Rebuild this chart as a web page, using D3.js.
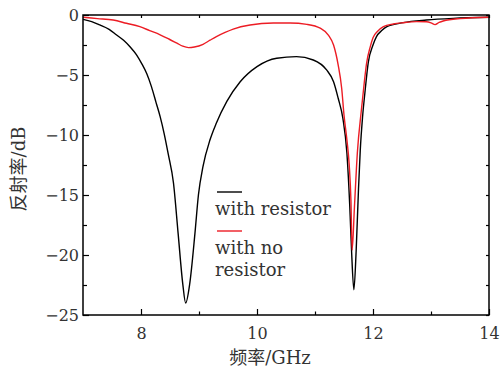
<!DOCTYPE html>
<html>
<head>
<meta charset="utf-8">
<script src="https://cdn.jsdelivr.net/npm/d3@7"></script>
<style>
  body { margin: 0; background: #fff; }
  text { font-family: "DejaVu Serif", "Noto Sans CJK SC", serif; fill: #333; }
</style>
</head>
<body>
<div id="chart"></div>
<script>
// frequency (GHz) / reflectivity (dB)
var freqWith = [7.00, 7.15, 7.29, 7.45, 7.58, 7.70, 7.81, 7.92, 8.01, 8.10, 8.18, 8.26, 8.33, 8.40, 8.47, 8.56, 8.64, 8.72, 8.77,
  8.84, 8.93, 8.99, 9.07, 9.19, 9.30, 9.48, 9.71, 10.00, 10.34, 10.68, 10.97, 11.20, 11.32, 11.40, 11.48, 11.55,
  11.60, 11.63, 11.67, 11.71, 11.75, 11.78, 11.82, 11.86, 11.92, 12.00, 12.06, 12.15, 12.24, 12.52, 12.92, 13.38, 14.00];
var dbWith = [-0.36, -0.55, -0.83, -1.2, -1.67, -2.1, -2.64, -3.3, -4.03, -4.9, -5.97, -7.3, -8.47, -9.9, -11.6, -14.0, -18.2, -22.4, -24.0,
  -22.4, -18.2, -15.0, -12.6, -10.4, -9.0, -7.2, -5.56, -4.3, -3.6, -3.47, -3.75, -4.58, -5.56, -6.94, -8.6, -11.5,
  -16.0, -19.6, -22.9, -19.6, -14.5, -11.3, -8.5, -6.5, -3.9, -2.5, -1.8, -1.3, -0.97, -0.64, -0.42, -0.28, -0.19];

var freqWithout = [7.00, 7.25, 7.52, 7.75, 7.98, 8.15, 8.33, 8.48, 8.62, 8.72, 8.82, 8.92, 9.07, 9.19, 9.30, 9.45, 9.59, 9.88, 10.28,
  10.57, 10.86, 11.09, 11.23, 11.32, 11.40, 11.46, 11.50, 11.55, 11.59, 11.62, 11.64, 11.68, 11.73, 11.80, 11.85, 11.89, 11.95,
  12.00, 12.08, 12.18, 12.35, 12.52, 12.75, 12.92, 13.00, 13.07, 13.14, 13.21, 13.50, 14.00];
var dbWithout = [-0.19, -0.3, -0.42, -0.69, -0.97, -1.3, -1.65, -2.0, -2.35, -2.6, -2.72, -2.67, -2.44, -2.1, -1.8, -1.45, -1.17, -0.83, -0.67,
  -0.67, -0.78, -1.1, -1.67, -2.5, -4.17, -6.1, -8.33, -10.4, -12.5, -15.5, -19.6, -16.0, -11.5, -7.9, -5.6, -4.0, -2.7,
  -1.9, -1.35, -0.97, -0.75, -0.64, -0.55, -0.56, -0.65, -0.8, -0.62, -0.5, -0.3, -0.19];

var xTicks = [8, 10, 12, 14];
var xMinor = [9, 11, 13];
var yTicks = [0, -5, -10, -15, -20, -25];
var yMinor = [-2.5, -7.5, -12.5, -17.5, -22.5];
var legendLabels = [['with resistor'], ['with no', 'resistor']];
var seriesColors = ['#000000', '#ec1c24'];

(function() {
  'use strict';

  var width = 502, height = 371;
  var m = { left: 83, right: 489, top: 15, bottom: 315 };

  var svg = d3.select('#chart').append('svg').attr('width', width).attr('height', height);

  var x = d3.scaleLinear().domain([7, 14]).range([m.left, m.right]);
  var y = d3.scaleLinear().domain([-25, 0]).range([m.bottom, m.top]);

  svg.append('clipPath').attr('id', 'plot').append('rect')
    .attr('x', m.left).attr('y', m.top).attr('width', m.right - m.left).attr('height', m.bottom - m.top);

  var series = [
    d3.zip(freqWith, dbWith),
    d3.zip(freqWithout, dbWithout)
  ];

  var line = d3.line()
    .x(function(d) { return x(d[0]); })
    .y(function(d) { return y(d[1]); })
    .curve(d3.curveMonotoneX);

  svg.append('g').attr('clip-path', 'url(#plot)').selectAll('path')
    .data(series)
    .enter()
    .append('path')
    .attr('d', line)
    .attr('fill', 'none')
    .attr('stroke', function(d, i) { return seriesColors[i]; })
    .attr('stroke-width', 1.4);

  // axes: ticks point inward, mirrored on top and right
  var fmt = function(d) { return d < 0 ? '\u2212' + Math.abs(d) : d; };

  var bottomAxis = svg.append('g').attr('transform', 'translate(0,' + m.bottom + ')')
    .call(d3.axisBottom(x).tickValues(xTicks).tickSizeInner(-6).tickSizeOuter(0).tickPadding(13).tickFormat(fmt));
  svg.append('g').attr('transform', 'translate(0,' + m.bottom + ')')
    .call(d3.axisBottom(x).tickValues(xMinor).tickSize(-3.5).tickFormat(''));
  svg.append('g').attr('transform', 'translate(0,' + m.top + ')')
    .call(d3.axisTop(x).tickValues(xTicks.concat(xMinor)).tickSize(-3).tickFormat(''));

  var leftAxis = svg.append('g').attr('transform', 'translate(' + m.left + ',0)')
    .call(d3.axisLeft(y).tickValues(yTicks).tickSizeInner(-6).tickSizeOuter(0).tickPadding(10).tickFormat(fmt));
  svg.append('g').attr('transform', 'translate(' + m.left + ',0)')
    .call(d3.axisLeft(y).tickValues(yMinor).tickSize(-4).tickFormat(''));
  svg.append('g').attr('transform', 'translate(' + m.right + ',0)')
    .call(d3.axisRight(y).tickValues(yTicks.concat(yMinor)).tickSize(-3).tickFormat(''));

  svg.selectAll('.domain').remove();
  svg.selectAll('.tick line').attr('stroke', '#000').attr('stroke-width', 1.2);
  bottomAxis.selectAll('text').attr('font-size', 16).attr('fill', '#333').style('font-family', '"DejaVu Serif", serif');
  leftAxis.selectAll('text').attr('font-size', 16).attr('fill', '#333').style('font-family', '"DejaVu Serif", serif').attr('x', -4);

  svg.append('rect')
    .attr('x', m.left).attr('y', m.top).attr('width', m.right - m.left).attr('height', m.bottom - m.top)
    .attr('fill', 'none').attr('stroke', '#000').attr('stroke-width', 1.5);

  // axis titles
  svg.append('text')
    .attr('x', (m.left + m.right) / 2 - 16).attr('y', 364)
    .attr('text-anchor', 'middle').attr('font-size', 18)
    .text('频率/GHz');

  svg.append('text')
    .attr('transform', 'translate(25,' + ((m.top + m.bottom) / 2 + 4) + ') rotate(-90)')
    .attr('text-anchor', 'middle').attr('font-size', 18)
    .text('反射率/dB');

  // legend
  var legend = svg.append('g');
  var legendY = [192, 231];
  legend.selectAll('line')
    .data(seriesColors)
    .enter()
    .append('line')
    .attr('x1', 217).attr('x2', 242)
    .attr('y1', function(d, i) { return legendY[i]; })
    .attr('y2', function(d, i) { return legendY[i]; })
    .attr('stroke', function(d) { return d; })
    .attr('stroke-width', 1.4);

  legend.selectAll('text')
    .data(legendLabels)
    .enter()
    .append('text')
    .attr('x', 215)
    .attr('y', function(d, i) { return legendY[i] + 23; })
    .attr('font-size', 18)
    .each(function(d) {
      d3.select(this).selectAll('tspan')
        .data(d)
        .enter()
        .append('tspan')
        .attr('x', 215)
        .attr('dy', function(t, j) { return j == 0 ? 0 : 22; })
        .text(function(t) { return t; });
    });
})();
</script>
</body>
</html>
